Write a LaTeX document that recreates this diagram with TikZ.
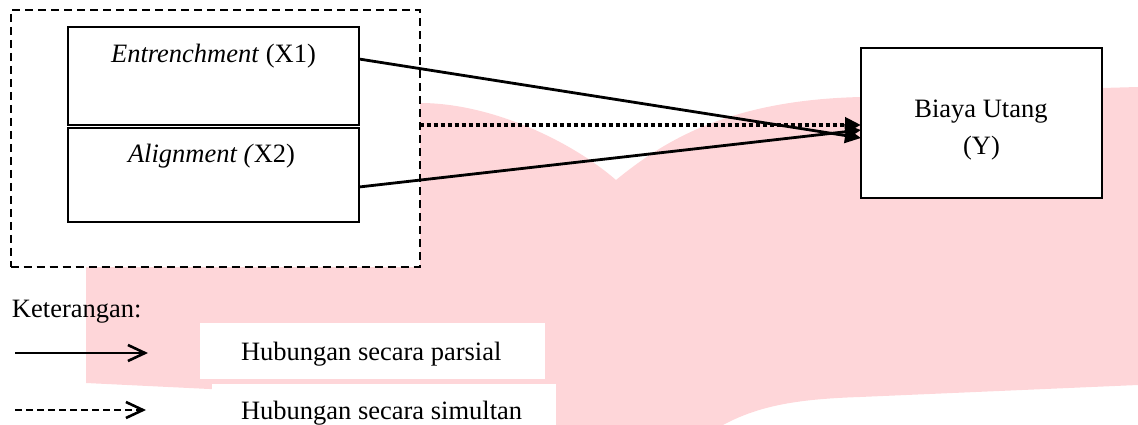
\documentclass[tikz,border=0pt]{standalone}
\usepackage{fontspec}
\setmainfont{Liberation Serif}
\usetikzlibrary{arrows.meta}
\definecolor{wm}{RGB}{254,214,217}
\begin{document}
\begin{tikzpicture}[x=1pt,y=-1pt,
  box/.style={draw=black, line width=2.4pt, fill=white, inner sep=0pt, outer sep=0pt, rectangle},
  gbox/.style={draw=black, line width=2pt, dash pattern=on 8pt off 5pt, fill=white, inner sep=0pt, outer sep=0pt, rectangle},
  wbox/.style={fill=white, inner sep=0pt, outer sep=0pt, rectangle, anchor=north west},
  txt/.style={font=\fontsize{26.5}{32}\selectfont, inner sep=0pt, outer sep=0pt, anchor=base},
  conn/.style={line width=2.8pt, -{Triangle[length=16pt,width=15pt]}},
  dotconn/.style={line width=4pt, dash pattern=on 4pt off 3pt, -{Triangle[length=16pt,width=15pt]}},
  legarrow/.style={line width=2.6pt, -{Straight Barb[length=17pt,width=16pt,line width=2.6pt]}}]

\useasboundingbox (0,0) rectangle (1138,425);

% watermark
\fill[wm] (86,103) -- (420,103) .. controls (490,103) and (570,140) .. (616,180)
  .. controls (665,140) and (730,100) .. (861,97) -- (1102,88) -- (1138,87)
  -- (1138,385) -- (860,397) .. controls (800,399) and (760,405) .. (723,425)
  -- (230,425) -- (230,390) -- (86,383) -- cycle;

% group box
\node[gbox, minimum width=409pt, minimum height=257pt] (G) at (215,138.5) {};

% variable boxes
\node[box, minimum width=291pt, minimum height=98pt] (X1) at (213.5,76) {};
\node[box, minimum width=291pt, minimum height=94pt] (X2) at (213.5,175) {};
\node[txt] (X1t) at (213.5,63) {\textit{Entrenchment} (X1)};
\node[txt] (X2t) at (211.5,163) {\textit{Alignment (}X2)};

\node[box, minimum width=241pt, minimum height=150pt] (Y) at (981.5,123) {};
\node[txt] (Yt1) at (981,118) {Biaya Utang};
\node[txt] (Yt2) at (981.5,155) {(Y)};

% connectors
\draw[dotconn] ([yshift=13.5pt]G.east) -- ([yshift=-2pt]Y.west);
\draw[conn] ([yshift=17pt]X1.east) -- ([yshift=-15pt]Y.west);
\draw[conn] ([yshift=-12pt]X2.east) -- ([yshift=-7pt]Y.west);

% legend
\node[txt, anchor=base west] (K) at (12,317) {Keterangan:};
\coordinate (La1) at (15,353);
\coordinate (La2) at (148,353);
\coordinate (Lb1) at (15,410);
\coordinate (Lb2) at (146,410);
\draw[legarrow] (La1) -- (La2);
\draw[legarrow, dash pattern=on 7pt off 4pt] (Lb1) -- (Lb2);

\node[wbox, minimum width=345pt, minimum height=56pt] (P) at (200,323) {};
\node[wbox, minimum width=344pt, minimum height=50pt] (S) at (212,384) {};
\node[txt, anchor=base west] (Pt) at (241,360) {Hubungan secara parsial};
\node[txt, anchor=base west] (St) at (241,419) {Hubungan secara simultan};
\end{tikzpicture}
\end{document}
